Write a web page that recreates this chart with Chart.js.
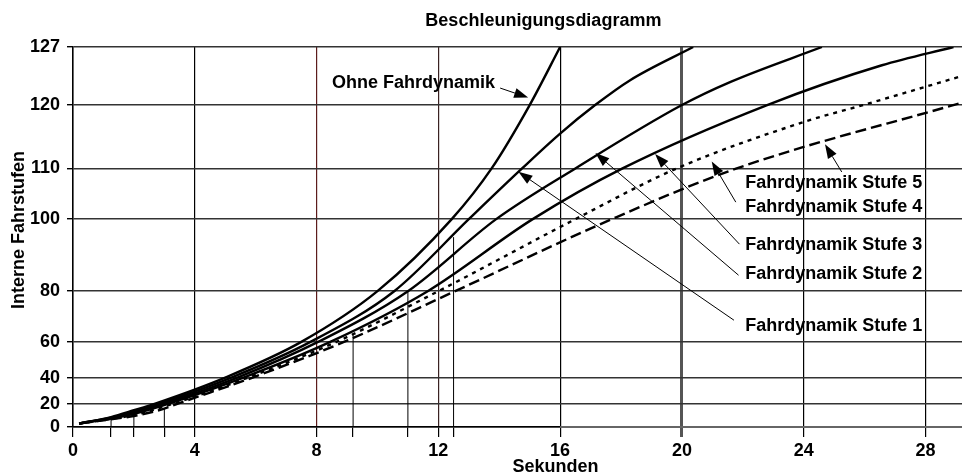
<!DOCTYPE html>
<html lang="de">
<head>
<meta charset="utf-8">
<title>Beschleunigungsdiagramm</title>
<script src="https://cdn.jsdelivr.net/npm/chart.js@4.4.1/dist/chart.umd.min.js"></script>
<style>
  html, body { margin: 0; padding: 0; background: #fff; }
</style>
</head>
<body>
<canvas id="chartBeschleunigung" width="962" height="475"></canvas>
<script>
// Achsen
const sekundenTicks = [0, 4, 8, 12, 16, 20, 24, 28];
const fahrstufenTicks = [0, 20, 40, 60, 80, 100, 110, 120, 127];

// kurze Lote von der Zeitachse bis zur Kurve
const lotSekunden = [1.25, 2, 3, 9.2, 11, 12.5];
const lotStufen = [6.6, 9.4, 15.7, 63.3, 79.8, 95];

// Kurven: Zeitpunkte (s), an denen die Kurve die Fahrstufen erreicht
const ohneZeit   = [0.2, 1.25, 2, 2.7, 5.0, 7.5, 10.0, 12.44, 13.75, 15.0, 16];
const ohneStufen = [3, 8.5, 14.3, 20, 40, 60, 80, 100, 110, 120, 127];

const stufe1Zeit   = [0.2, 1.25, 2, 2.85, 5.2, 7.8, 10.55, 13.0, 14.75, 16, 17.15, 18.3, 20.37];
const stufe1Stufen = [3, 8, 13.2, 20, 40, 60, 80, 100, 110, 115.5, 120, 123, 127];

const stufe2Zeit   = [0.2, 1.25, 2, 3.0, 5.4, 8.05, 11.0, 13.9, 16.5, 20.0, 21.6, 24.6];
const stufe2Stufen = [3, 7.6, 12.2, 20, 40, 60, 80, 100, 110, 120, 122.8, 127];

const stufe3Zeit   = [0.2, 1.25, 2, 3.15, 5.6, 8.45, 11.65, 15.1, 18.05, 22.8, 26.57, 28.92];
const stufe3Stufen = [3, 7.2, 11.2, 20, 40, 60, 80, 100, 110, 120, 124.8, 127];

const stufe4Zeit   = [0.2, 1.25, 2, 3.3, 5.75, 8.65, 12.0, 16.5, 19.83, 24.05, 25.95, 29.2];
const stufe4Stufen = [3, 6.9, 10.2, 20, 40, 60, 80, 100, 110, 117.4, 120, 123.5];

const stufe5Zeit   = [0.2, 1.25, 2, 3, 3.45, 5.9, 8.9, 12.55, 17.7, 21.8, 29.2];
const stufe5Stufen = [3, 6.6, 9.4, 15.7, 20, 40, 60, 80, 100, 110, 120.3];

// Lage der Fahrstufen-Ticks auf der Achse (Anteil der Achsenhoehe)
const fahrstufenLage = [0, 0.0616, 0.1301, 0.2239, 0.3574, 0.547, 0.6805, 0.8472, 1];

// Beschriftungen mit Pfeil (Sekunden / Fahrstufe)
const hinweise = [
    { text: "Ohne Fahrdynamik", at: [8.51, 122.7], von: [14.03, 122.05], zu: [14.95, 120.9] },
    { text: "Fahrdynamik Stufe 5", at: [22.08, 107.2], von: [25.25, 109.3], zu: [24.7, 113.8] },
    { text: "Fahrdynamik Stufe 4", at: [22.08, 102.3], von: [21.77, 103.35], zu: [20.98, 111.1] },
    { text: "Fahrdynamik Stufe 3", at: [22.08, 92.8], von: [21.89, 93.06], zu: [19.12, 112.26] },
    { text: "Fahrdynamik Stufe 2", at: [22.08, 84.9], von: [21.86, 84.44], zu: [17.16, 112.42] },
    { text: "Fahrdynamik Stufe 1", at: [22.08, 66.2], von: [21.71, 68.56], zu: [14.63, 109.33] }
];

const FONT = '"Liberation Sans", Arial, sans-serif';

function punkte(zeit, stufen) {
    return zeit.map((t, i) => ({ x: t, y: stufen[i] }));
}

// Fahrstufe -> Anteil der Achse (stueckweise zwischen den Ticks)
function stufeZuAnteil(v) {
    const n = fahrstufenTicks.length;
    if (v <= fahrstufenTicks[0]) return fahrstufenLage[0];
    for (let i = 1; i < n; i++) {
        if (v <= fahrstufenTicks[i]) {
            const a = fahrstufenTicks[i - 1], b = fahrstufenTicks[i];
            return fahrstufenLage[i - 1] + (v - a) / (b - a) * (fahrstufenLage[i] - fahrstufenLage[i - 1]);
        }
    }
    const a = fahrstufenTicks[n - 2], b = fahrstufenTicks[n - 1];
    return 1 + (v - b) / (b - a) * (fahrstufenLage[n - 1] - fahrstufenLage[n - 2]);
}

function anteilZuStufe(d) {
    for (let i = 1; i < fahrstufenLage.length; i++) {
        if (d <= fahrstufenLage[i]) {
            const a = fahrstufenLage[i - 1], b = fahrstufenLage[i];
            return fahrstufenTicks[i - 1] + (d - a) / (b - a) * (fahrstufenTicks[i] - fahrstufenTicks[i - 1]);
        }
    }
    return fahrstufenTicks[fahrstufenTicks.length - 1];
}

class FahrstufenScale extends Chart.LinearScale {
    buildTicks() {
        this.start = this.min;
        this.end = this.max;
        return fahrstufenTicks.map(v => ({ value: v }));
    }
    getPixelForValue(value) {
        if (value === null || isNaN(value)) return NaN;
        return this.getPixelForDecimal(stufeZuAnteil(value));
    }
    getValueForPixel(pixel) {
        return anteilZuStufe(this.getDecimalForPixel(pixel));
    }
}
FahrstufenScale.id = "fahrstufen";
FahrstufenScale.defaults = Chart.LinearScale.defaults;
Chart.register(FahrstufenScale);

// Lote als Liniensegmente mit Luecken
const lotPunkte = [];
lotSekunden.forEach((t, i) => {
    lotPunkte.push({ x: t, y: 0 }, { x: t, y: lotStufen[i] }, { x: t, y: null });
});

function pfeil(ctx, x1, y1, x2, y2) {
    const w = Math.atan2(y2 - y1, x2 - x1);
    const len = 14, half = 5;
    const bx = x2 - len * Math.cos(w), by = y2 - len * Math.sin(w);
    ctx.beginPath();
    ctx.moveTo(x1, y1);
    ctx.lineTo(bx, by);
    ctx.stroke();
    ctx.beginPath();
    ctx.moveTo(x2, y2);
    ctx.lineTo(bx + half * Math.sin(w), by - half * Math.cos(w));
    ctx.lineTo(bx - half * Math.sin(w), by + half * Math.cos(w));
    ctx.closePath();
    ctx.fill();
}

const beschriftung = {
    id: "beschriftung",
    afterDraw(chart) {
        const { ctx, chartArea } = chart;
        const x = chart.scales.x, y = chart.scales.y;
        ctx.save();

        // rechter Teil der Zeitachse ist grau
        ctx.strokeStyle = "#666";
        ctx.lineWidth = 2;
        ctx.beginPath();
        ctx.moveTo(x.getPixelForValue(16), chartArea.bottom);
        ctx.lineTo(chartArea.right, chartArea.bottom);
        ctx.stroke();

        ctx.fillStyle = "#000";
        ctx.strokeStyle = "#000";
        ctx.lineWidth = 1;
        ctx.font = "bold 18px " + FONT;

        // Titel und Achsentitel
        ctx.textAlign = "center";
        ctx.textBaseline = "middle";
        ctx.fillText("Beschleunigungsdiagramm", x.getPixelForValue(15.45), chartArea.top - 26);
        ctx.fillText("Sekunden", x.getPixelForValue(15.85), chartArea.bottom + 40);
        ctx.save();
        ctx.translate(19, (chartArea.top + chartArea.bottom) / 2 - 7);
        ctx.rotate(-Math.PI / 2);
        ctx.fillText("Interne Fahrstufen", 0, 0);
        ctx.restore();

        // Kurvenbeschriftungen
        ctx.textAlign = "left";
        hinweise.forEach(h => {
            ctx.fillText(h.text, x.getPixelForValue(h.at[0]), y.getPixelForValue(h.at[1]));
            pfeil(ctx,
                x.getPixelForValue(h.von[0]), y.getPixelForValue(h.von[1]),
                x.getPixelForValue(h.zu[0]), y.getPixelForValue(h.zu[1]));
        });
        ctx.restore();
    }
};

function kurve(label, daten, dash) {
    return {
        label,
        data: daten,
        borderColor: "#000",
        borderWidth: 2.4,
        borderDash: dash,
        pointRadius: 0,
        fill: false,
        cubicInterpolationMode: "monotone"
    };
}

function xGridFarbe(ctx) {
    const v = ctx.tick ? ctx.tick.value : 0;
    if (!sekundenTicks.includes(v)) return "rgba(0,0,0,0)";
    if (v === 8) return "#5c1c1c";
    if (v === 12) return "#3a2222";
    if (v === 20) return "#555";
    return "#000";
}

const chart = new Chart(document.getElementById("chartBeschleunigung"), {
    type: "line",
    data: {
        datasets: [
            kurve("Ohne Fahrdynamik", punkte(ohneZeit, ohneStufen), []),
            kurve("Fahrdynamik Stufe 1", punkte(stufe1Zeit, stufe1Stufen), []),
            kurve("Fahrdynamik Stufe 2", punkte(stufe2Zeit, stufe2Stufen), []),
            kurve("Fahrdynamik Stufe 3", punkte(stufe3Zeit, stufe3Stufen), []),
            kurve("Fahrdynamik Stufe 4", punkte(stufe4Zeit, stufe4Stufen), [4, 5]),
            kurve("Fahrdynamik Stufe 5", punkte(stufe5Zeit, stufe5Stufen), [11, 5]),
            {
                label: "Lote",
                data: lotPunkte,
                borderColor: "#000",
                borderWidth: 1,
                pointRadius: 0,
                spanGaps: false,
                tension: 0
            }
        ]
    },
    options: {
        responsive: false,
        animation: false,
        events: [],
        layout: { padding: { top: 47, left: 0, right: 0, bottom: 0 } },
        plugins: {
            legend: { display: false },
            title: { display: false },
            tooltip: { enabled: false }
        },
        scales: {
            x: {
                type: "linear",
                min: 0,
                max: 29.2,
                afterBuildTicks: scale => {
                    scale.ticks = sekundenTicks.concat(lotSekunden)
                        .sort((a, b) => a - b)
                        .map(v => ({ value: v }));
                },
                afterFit: scale => { scale.height = 48; },
                ticks: {
                    autoSkip: false,
                    maxRotation: 0,
                    padding: 3,
                    color: "#000",
                    font: { family: FONT, size: 18, weight: "bold" },
                    callback: v => sekundenTicks.includes(v) ? String(v) : ""
                },
                grid: {
                    color: xGridFarbe,
                    lineWidth: ctx => (ctx.tick && ctx.tick.value === 20) ? 3 : 1.2,
                    tickColor: ctx => (ctx.tick && ctx.tick.value === 20) ? "#555" : "#000",
                    tickLength: 10
                },
                border: { color: "#000", width: 1.5 }
            },
            y: {
                type: "fahrstufen",
                min: 0,
                max: 127,
                afterFit: scale => { scale.width = 73; },
                ticks: {
                    autoSkip: false,
                    padding: 7,
                    color: "#000",
                    font: { family: FONT, size: 18, weight: "bold" },
                    callback: v => String(v)
                },
                grid: {
                    color: "#333",
                    lineWidth: 1.4,
                    tickColor: "#000",
                    tickLength: 6
                },
                border: { color: "#000", width: 1.5 }
            }
        }
    },
    plugins: [beschriftung]
});
</script>
</body>
</html>
